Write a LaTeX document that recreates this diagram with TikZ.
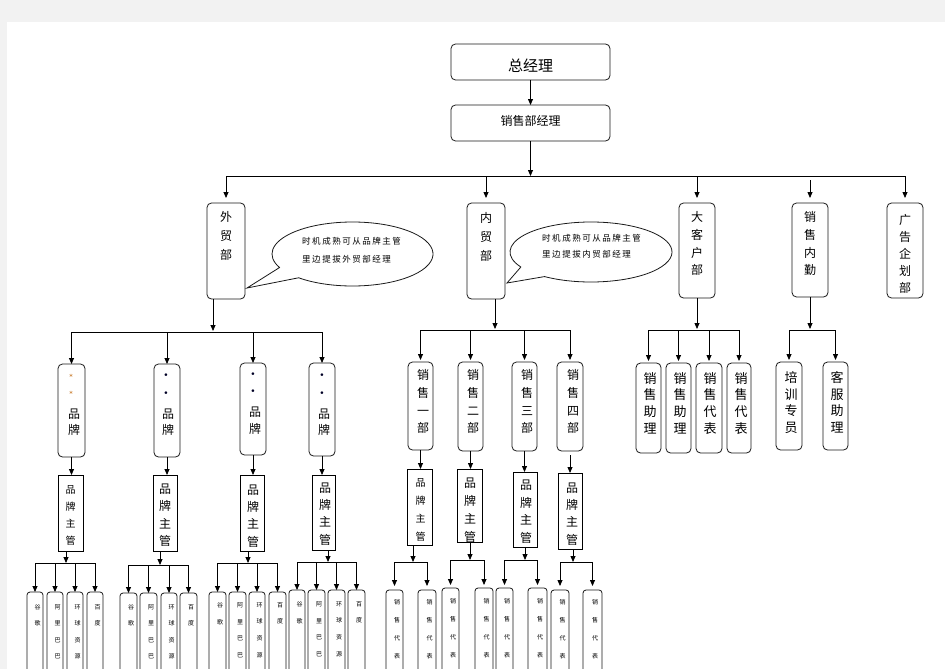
\documentclass[tikz,border=0pt]{standalone}
\usepackage{fontspec}
\setmainfont{Noto Sans CJK SC}
\newfontfamily\cosp[LetterSpace=18]{Noto Sans CJK SC}
\newfontfamily\djv{DejaVu Sans}
\usetikzlibrary{arrows.meta,calc}

\newcommand\BX[6]{%
  \pgfmathsetmacro\bxw{#4-#2}\pgfmathsetmacro\bxh{#5-#3}%
  \node[#6,minimum width=\bxw pt,minimum height=\bxh pt,anchor=north west] (#1) at (#2,#3) {};}
\newcommand\VT[6]{% name, x, y of first char centre, pitch, size, text
  \pgfmathsetmacro\vty{#3-0.45*#5}%
  \node[font=\fontsize{#5}{#4}\selectfont,align=center,anchor=north,inner sep=0pt] (#1) at (#2,\vty) {#6};}
\newcommand\LF[7]{% name, x1, y1, x2, first row, pitch, text
  \BX{#1}{#2}{#3}{#4}{690}{leaf}%
  \pgfmathsetmacro\lfx{(#2+#4)/2+2.5}%
  \VT{#1t}{\lfx}{#5}{#6}{6}{#7}}

\begin{document}
\begin{tikzpicture}[x=1pt,y=-1pt,
  rbox/.style={draw=black!90,fill=white,rounded corners=4.5pt,line width=0.8pt,inner sep=0pt,outer sep=0pt},
  sbox/.style={draw=black,fill=white,line width=0.9pt,inner sep=0pt,outer sep=0pt},
  leaf/.style={draw=black!90,fill=white,rounded corners=3pt,line width=0.8pt,inner sep=0pt,outer sep=0pt},
  ln/.style={line width=0.8pt},
  arr/.style={ln,-{Triangle[length=6pt,width=5pt]}},
  callout/.style={draw=black!90,fill=white,line width=0.8pt},
  dotc/.style={font=\djv\fontsize{9}{9}\selectfont,text=black!85!blue,inner sep=0pt},
  astc/.style={font=\djv\fontsize{7}{7}\selectfont,text=orange!75!black,inner sep=0pt}]

\useasboundingbox (0,0) rectangle (945,669);
\clip (0,0) rectangle (945,669);
\fill[black!5] (0,0) rectangle (945,669);
\fill[white] (7,22) rectangle (945,669);

% ---------- top ----------
\BX{gm}{451}{44}{610}{80}{rbox}
\node[font=\fontsize{15}{15}\selectfont] (gmt) at (530.5,66) {总经理};
\BX{sm}{451}{105}{610}{141}{rbox}
\node[font=\fontsize{12}{12}\selectfont] (smt) at (530.5,121) {销售部经理};
\draw[arr] (gm.south) -- (sm.north);
\coordinate (bus0) at (530.5,176);
\draw[arr] (sm.south) -- (bus0);

% ---------- level 2 ----------
\BX{wm}{207}{203}{245}{299}{rbox}
\VT{wmt}{226}{217}{19}{12}{外\\贸\\部}
\BX{nm}{467}{203}{505}{299}{rbox}
\VT{nmt}{486}{218}{19}{12}{内\\贸\\部}
\BX{dk}{679}{203}{715}{298}{rbox}
\VT{dkt}{697}{217}{17.7}{12}{大\\客\\户\\部}
\BX{xn}{792}{203}{828}{297}{rbox}
\VT{xnt}{810}{217}{17.7}{12}{销\\售\\内\\勤}
\BX{gg}{887}{203}{923}{298}{rbox}
\VT{ggt}{905}{220}{17}{12}{广\\告\\企\\划\\部}

\draw[ln] (wm.north |- bus0) -- (gg.north |- bus0);
\foreach \n in {wm,nm,dk,gg}{\draw[arr,shorten >=5pt] (\n.north |- bus0) -- (\n.north);}
\draw[arr,shorten >=5pt] ($(xn.north |- bus0)+(0,4)$) -- (xn.north);

% ---------- callouts ----------
\coordinate (c1) at (352.5,254);
\draw[callout] ($(c1)+(228:80.5pt and 32pt)$) arc[start angle=228,end angle=565,x radius=80.5pt,y radius=32pt] -- (247,288) -- cycle;
\node[font=\cosp\fontsize{8.5}{18}\selectfont,align=left,anchor=west,inner sep=0pt] (c1t) at (302,250) {时机成熟可从品牌主管\\里边提拔外贸部经理};
\coordinate (c2) at (591,252);
\draw[callout] ($(c2)+(235:81pt and 30pt)$) arc[start angle=235,end angle=570,x radius=81pt,y radius=30pt] -- (507,283) -- cycle;
\node[font=\cosp\fontsize{8.5}{16}\selectfont,align=left,anchor=west,inner sep=0pt] (c2t) at (542,246) {时机成熟可从品牌主管\\里边提拔内贸部经理};

% ---------- 外贸部 subtree ----------
\coordinate (wb) at (213,332);
\draw[arr] ($(wm.south west)+(6,0)$) -- ($(wb)+(0,-1)$);
\BX{b1}{58}{364}{85}{457}{rbox}
\BX{b2}{154}{364}{180}{457}{rbox}
\BX{b3}{240}{363}{266}{455}{rbox}
\BX{b4}{309}{363}{335}{456}{rbox}
\draw[ln] (b1.north |- wb) -- (b4.north |- wb);
\foreach \n in {b1,b2,b3,b4}{\draw[arr] (\n.north |- wb) -- (\n.north);}
\node[astc] (b1s1) at (71,377) {*};
\node[astc] (b1s2) at (71,394) {*};
\VT{b1t}{74}{414}{16}{12}{品\\牌}
\node[dotc] (b2d1) at (166,376) {•};
\node[dotc] (b2d2) at (166,394) {•};
\VT{b2t}{168}{414}{16}{12}{品\\牌}
\node[dotc] (b3d1) at (253,375) {•};
\node[dotc] (b3d2) at (253,392) {•};
\VT{b3t}{255}{412}{17}{12}{品\\牌}
\node[dotc] (b4d1) at (322,376) {•};
\node[dotc] (b4d2) at (322,394) {•};
\VT{b4t}{324}{414}{16}{12}{品\\牌}

\BX{s1}{58}{475}{83}{551}{sbox}
\BX{s2}{153}{475}{177}{551}{sbox}
\BX{s3}{240}{475}{264}{551}{sbox}
\BX{s4}{312}{475}{335}{550}{sbox}
\draw[arr] (b1.south) -- (b1.south |- s1.north);
\draw[arr] (b2.south) -- (b2.south |- s2.north);
\draw[arr] (b3.south) -- (b3.south |- s3.north);
\draw[arr] (b4.south) -- (b4.south |- s4.north);
\VT{s1t}{70.5}{490}{17}{10}{品\\牌\\主\\管}
\VT{s2t}{165}{489}{17.5}{12}{品\\牌\\主\\管}
\VT{s3t}{253}{490}{17.3}{12}{品\\牌\\主\\管}
\VT{s4t}{325}{488}{17.3}{12}{品\\牌\\主\\管}

% leaves under s1..s4
\LF{a11}{27}{592}{43}{607}{16.5}{谷\\歌}
\LF{a12}{47}{592}{63}{607}{16.5}{阿\\里\\巴\\巴}
\LF{a13}{67}{592}{83}{607}{16.5}{环\\球\\资\\源}
\LF{a14}{87}{592}{103}{607}{16.5}{百\\度}
\LF{a21}{120}{593}{137}{607}{16.5}{谷\\歌}
\LF{a22}{140}{593}{157}{607}{16.5}{阿\\里\\巴\\巴}
\LF{a23}{161}{593}{177}{607}{16.5}{环\\球\\资\\源}
\LF{a24}{180}{593}{197}{607}{16.5}{百\\度}
\LF{a31}{209}{592}{226}{605}{16.7}{谷\\歌}
\LF{a32}{229}{592}{246}{605}{16.7}{阿\\里\\巴\\巴}
\LF{a33}{249}{592}{265}{605}{16.7}{环\\球\\资\\源}
\LF{a34}{269}{592}{286}{605}{16.7}{百\\度}
\LF{a41}{289}{590}{305}{604}{16.7}{谷\\歌}
\LF{a42}{308}{590}{325}{604}{16.7}{阿\\里\\巴\\巴}
\LF{a43}{328}{590}{345}{604}{16.7}{环\\球\\资\\源}
\LF{a44}{348}{590}{365}{604}{16.7}{百\\度}

\coordinate (q1) at (66,563);
\coordinate (q2) at (160,565);
\coordinate (q3) at (248,563);
\coordinate (q4) at (328,562);
\draw[arr] (s1.south -| q1) -- (q1);
\draw[arr] (s2.south -| q2) -- (q2);
\draw[arr] (s3.south -| q3) -- (q3);
\draw[arr] (s4.south -| q4) -- (q4);
\draw[ln] (a11.north |- q1) -- (a14.north |- q1);
\draw[ln] (a21.north |- q2) -- (a24.north |- q2);
\draw[ln] (a31.north |- q3) -- (a34.north |- q3);
\draw[ln] (a41.north |- q4) -- (a44.north |- q4);
\foreach \n in {a11,a12,a13,a14}{\draw[arr] (\n.north |- q1) -- (\n.north);}
\foreach \n in {a21,a22,a23,a24}{\draw[arr] (\n.north |- q2) -- (\n.north);}
\foreach \n in {a31,a32,a33,a34}{\draw[arr] (\n.north |- q3) -- (\n.north);}
\foreach \n in {a41,a42,a43,a44}{\draw[arr] (\n.north |- q4) -- (\n.north);}

% ---------- 内贸部 subtree ----------
\coordinate (nb) at (495,330);
\draw[arr] ($(nm.south west)+(28,0)$) -- ($(nb)+(0,-1)$);
\BX{d1}{408}{362}{433}{450}{rbox}
\BX{d2}{458}{362}{483}{451}{rbox}
\BX{d3}{512}{362}{537}{451}{rbox}
\BX{d4}{557}{362}{583}{451}{rbox}
\draw[ln] (d1.north |- nb) -- (d4.north |- nb);
\foreach \n in {d1,d2,d3,d4}{\draw[arr,shorten >=2pt] (\n.north |- nb) -- (\n.north);}
\VT{d1t}{423}{375}{17.7}{12}{销\\售\\一\\部}
\VT{d2t}{473}{375}{17.7}{12}{销\\售\\二\\部}
\VT{d3t}{527}{375}{17.7}{12}{销\\售\\三\\部}
\VT{d4t}{573}{375}{17.7}{12}{销\\售\\四\\部}

\BX{m1}{407}{469}{432}{545}{sbox}
\BX{m2}{457}{469}{482}{542}{sbox}
\BX{m3}{513}{472}{537}{547}{sbox}
\BX{m4}{558}{473}{582}{549}{sbox}
\draw[arr] (d1.south) -- (d1.south |- m1.north);
\draw[arr] (d2.south) -- (d2.south |- m2.north);
\draw[arr] (d3.south) -- (d3.south |- m3.north);
\draw[arr] ($(d4.south)+(0,4)$) -- (d4.south |- m4.north);
\VT{m1t}{420.5}{483}{18}{10}{品\\牌\\主\\管}
\VT{m2t}{470}{483}{18}{12}{品\\牌\\主\\管}
\VT{m3t}{526}{485}{17.7}{12}{品\\牌\\主\\管}
\VT{m4t}{572}{488}{17.3}{12}{品\\牌\\主\\管}

\LF{e11}{386}{590}{403}{602}{18}{销\\售\\代\\表}
\LF{e12}{418}{590}{436}{602}{18}{销\\售\\代\\表}
\LF{e21}{442}{588}{459}{601}{18}{销\\售\\代\\表}
\LF{e22}{475}{588}{493}{601}{18}{销\\售\\代\\表}
\LF{e31}{496}{588}{513}{601}{18}{销\\售\\代\\表}
\LF{e32}{528}{588}{547}{601}{18}{销\\售\\代\\表}
\LF{e41}{551}{590}{569}{602}{18}{销\\售\\代\\表}
\LF{e42}{583}{590}{602}{602}{18}{销\\售\\代\\表}

\coordinate (r1) at (413,562);
\coordinate (r2) at (470,560);
\coordinate (r3) at (525,560);
\coordinate (r4) at (573,562);
\draw[arr] (m1.south -| r1) -- (r1);
\draw[arr] (m2.south -| r2) -- (r2);
\draw[arr] (m3.south -| r3) -- (r3);
\draw[arr] (m4.south -| r4) -- (r4);
\draw[ln] (e11.north |- r1) -- (e12.north |- r1);
\draw[ln] (e21.north |- r2) -- (e22.north |- r2);
\draw[ln] (e31.north |- r3) -- (e32.north |- r3);
\draw[ln] (e41.north |- r4) -- (e42.north |- r4);
\foreach \n in {e11,e12}{\draw[arr,shorten >=4pt] (\n.north |- r1) -- (\n.north);}
\foreach \n in {e21,e22}{\draw[arr,shorten >=3pt] (\n.north |- r2) -- (\n.north);}
\foreach \n in {e31,e32}{\draw[arr,shorten >=3pt] (\n.north |- r3) -- (\n.north);}
\foreach \n in {e41,e42}{\draw[arr,shorten >=4pt] (\n.north |- r4) -- (\n.north);}

% ---------- 大客户部 subtree ----------
\coordinate (kb) at (697,330);
\draw[arr] (dk.south) -- ($(kb)+(0,-1)$);
\BX{k1}{636}{363}{661}{453}{rbox}
\BX{k2}{666}{363}{691}{453}{rbox}
\BX{k3}{696}{363}{722}{453}{rbox}
\BX{k4}{727}{363}{751}{453}{rbox}
\draw[ln] (k1.north |- kb) -- (k4.north |- kb);
\foreach \n in {k1,k2,k3,k4}{\draw[arr,shorten >=2pt] (\n.north |- kb) -- (\n.north);}
\VT{k1t}{650}{378}{16.7}{13}{销\\售\\助\\理}
\VT{k2t}{680}{378}{16.7}{13}{销\\售\\助\\理}
\VT{k3t}{710}{378}{16.7}{13}{销\\售\\代\\表}
\VT{k4t}{741}{378}{16.7}{13}{销\\售\\代\\表}

% ---------- 销售内勤 subtree ----------
\coordinate (pb) at (810,330);
\draw[arr] (xn.south) -- ($(pb)+(0,-1)$);
\BX{p1}{776}{362}{802}{450}{rbox}
\BX{p2}{823}{362}{848}{450}{rbox}
\draw[ln] (p1.north |- pb) -- (p2.north |- pb);
\foreach \n in {p1,p2}{\draw[arr,shorten >=2pt] (\n.north |- pb) -- (\n.north);}
\VT{p1t}{791}{377}{16.7}{13}{培\\训\\专\\员}
\VT{p2t}{837}{377}{16.7}{13}{客\\服\\助\\理}

\end{tikzpicture}
\end{document}
